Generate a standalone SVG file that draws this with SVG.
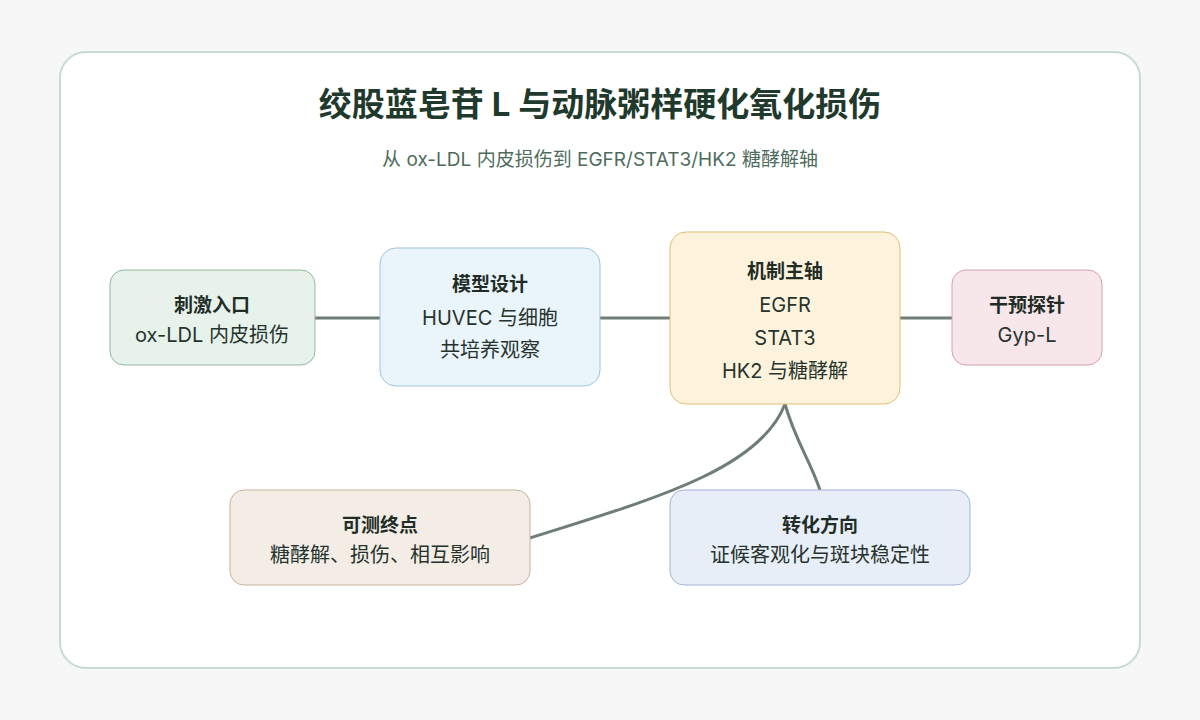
<svg xmlns="http://www.w3.org/2000/svg" width="1200" height="720" viewBox="0 0 1200 720">
<style>
text{font-family:Inter,"Noto Sans CJK SC",sans-serif;text-anchor:middle}
.h{font-size:19px;font-weight:700;fill:#1f2d26}
.b{font-size:20px;fill:#26332d}
.c{fill:none;stroke:#6e7d76;stroke-width:3}
</style>
<rect width="1200" height="720" fill="#f6f7f6"/>
<rect x="60" y="52" width="1080" height="616" rx="26" fill="#fff" stroke="#c8dbd2" stroke-width="2"/>
<text x="600" y="116" style="font-size:33px;font-weight:700;fill:#1f3a2c">绞股蓝皂苷 L 与动脉粥样硬化氧化损伤</text>
<text x="600" y="166" style="font-size:19px;fill:#4f6b5e">从 ox-LDL 内皮损伤到 EGFR/STAT3/HK2 糖酵解轴</text>
<g id="connectors">
<line class="c" x1="315" y1="318" x2="380" y2="318"/>
<line class="c" x1="600" y1="318" x2="670" y2="318"/>
<line class="c" x1="900" y1="318" x2="952" y2="318"/>
<path class="c" d="M785 404 C760 470 650 500 530 538"/>
<path class="c" d="M785 404 C795 440 810 460 820 490"/>
</g>
<g id="n1"><rect x="110" y="270" width="205" height="95" rx="14" fill="#e7f2eb" stroke="#8fb9a0"/>
<text class="h" x="212" y="312">刺激入口</text><text class="b" x="212" y="342">ox-LDL 内皮损伤</text></g>
<g id="n2"><rect x="380" y="248" width="220" height="138" rx="16" fill="#eaf4fb" stroke="#9fc4dc"/>
<text class="h" x="490" y="291">模型设计</text><text class="b" x="490" y="325">HUVEC 与细胞</text><text class="b" x="490" y="357">共培养观察</text></g>
<g id="n3"><rect x="670" y="232" width="230" height="172" rx="16" fill="#fdf3dc" stroke="#e0bf78"/>
<text class="h" x="785" y="278">机制主轴</text><text class="b" x="785" y="312">EGFR</text><text class="b" x="785" y="345">STAT3</text><text class="b" x="785" y="378">HK2 与糖酵解</text></g>
<g id="n4"><rect x="952" y="270" width="150" height="95" rx="14" fill="#f7e6ea" stroke="#d4a2b0"/>
<text class="h" x="1027" y="312">干预探针</text><text class="b" x="1027" y="342">Gyp-L</text></g>
<g id="n5"><rect x="230" y="490" width="300" height="95" rx="14" fill="#f3ede6" stroke="#c8b39c"/>
<text class="h" x="380" y="532">可测终点</text><text class="b" x="380" y="562">糖酵解、损伤、相互影响</text></g>
<g id="n6"><rect x="670" y="490" width="300" height="95" rx="14" fill="#e8eef8" stroke="#a3b4d8"/>
<text class="h" x="820" y="532">转化方向</text><text class="b" x="820" y="562">证候客观化与斑块稳定性</text></g>
</svg>
